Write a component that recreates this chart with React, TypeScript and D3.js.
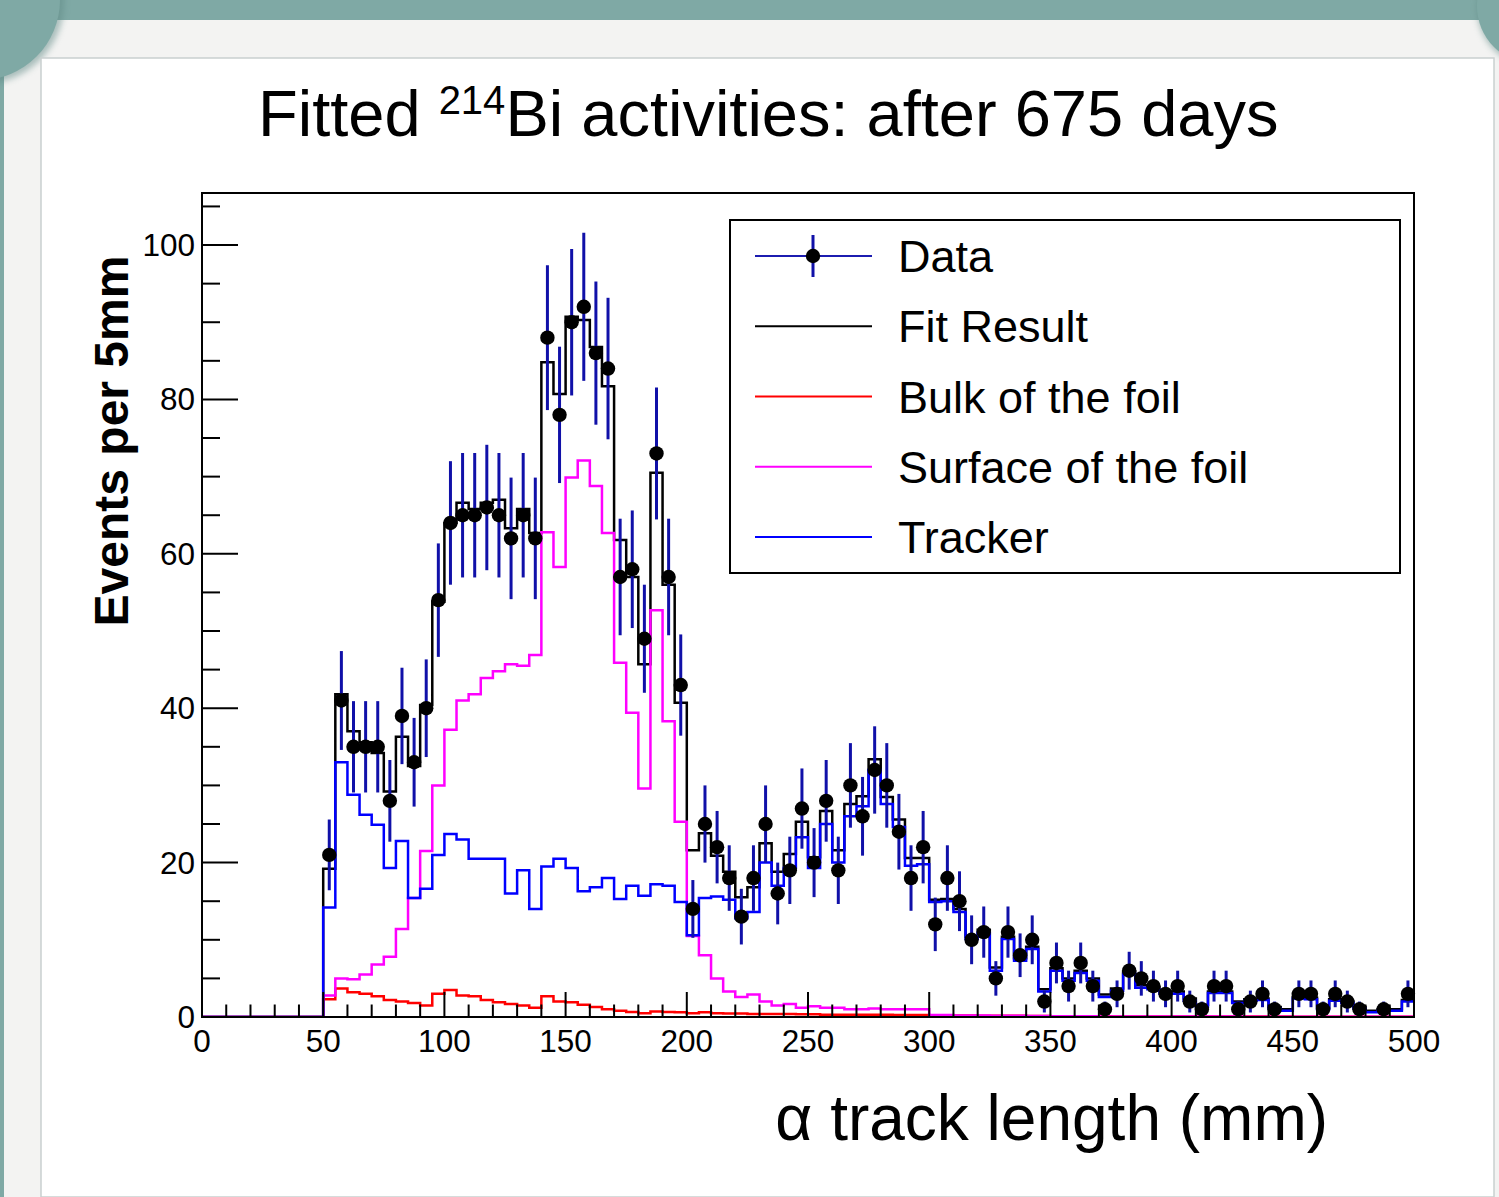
import React from 'react';
import * as d3 from 'd3';

// ---- data (5 mm bins starting at 50 mm) ----
const BIN_START = 50;
const BIN_WIDTH = 5;

const dataCounts = [
  21, 41, 35, 35, 35, 28, 39, 33, 40, 54,
  64, 65, 65, 66, 65, 62, 65, 62, 88, 78,
  90, 92, 86, 84, 57, 58, 49, 73, 57, 43,
  14, 25, 22, 18, 13, 18, 25, 16, 19, 27,
  20, 28, 19, 30, 26, 32, 30, 24, 18, 22,
  12, 18, 15, 10, 11, 5, 11, 8, 10, 2,
  7, 4, 7, 4, 1, 3, 6, 5, 4, 3,
  4, 2, 1, 4, 4, 1, 2, 3, 1, 0,
  3, 3, 1, 3, 2, 1, 0, 1, 0, 3,
];

const fitResult = [
  19.2, 41.8, 37.0, 35.6, 34.2, 29.2, 36.3, 32.5, 40.4, 53.8,
  64.0, 66.6, 65.8, 66.6, 67.0, 63.3, 65.8, 62.7, 84.8, 80.7,
  90.7, 90.3, 86.8, 81.7, 61.8, 57.0, 45.7, 70.5, 56.0, 40.7,
  21.6, 23.8, 20.9, 18.8, 15.5, 16.8, 22.5, 18.8, 21.1, 25.3,
  20.7, 26.7, 21.6, 27.6, 28.6, 33.4, 28.5, 25.6, 20.6, 20.6,
  15.2, 15.3, 14.0, 10.4, 11.3, 6.4, 10.4, 7.6, 9.1, 3.6,
  6.3, 5.0, 6.0, 5.0, 2.9, 3.7, 5.9, 4.1, 3.9, 3.3,
  3.3, 2.4, 1.6, 3.3, 3.3, 2.0, 2.3, 2.4, 1.3, 1.0,
  2.6, 2.5, 1.2, 2.3, 2.0, 1.3, 0.8, 1.0, 1.0, 2.2,
];

const bulkFoil = [
  2.3, 3.7, 3.2, 3.0, 2.7, 2.2, 2.0, 1.8, 1.5, 3.0,
  3.5, 2.8, 2.7, 2.2, 1.9, 1.7, 1.5, 1.2, 2.7, 2.0,
  1.9, 1.6, 1.3, 1.0, 0.8, 0.65, 0.5, 0.7, 0.65, 0.6,
  0.5, 0.6, 0.5, 0.45, 0.45, 0.4, 0.4, 0.4, 0.4, 0.35,
  0.35, 0.3, 0.3, 0.3, 0.3, 0.3, 0.3, 0.25, 0.25, 0.25,
  0.2, 0.2, 0.2, 0.2, 0.15, 0.15, 0.15, 0.15, 0.12, 0.12,
  0.1, 0.1, 0.1, 0.1, 0.1, 0.08, 0.08, 0.08, 0.08, 0.08,
  0.06, 0.06, 0.06, 0.06, 0.06, 0.05, 0.05, 0.05, 0.05, 0.05,
  0.04, 0.04, 0.04, 0.04, 0.04, 0.03, 0.03, 0.03, 0.03, 0.03,
];

const surfaceFoil = [
  2.8, 5.0, 4.9, 5.5, 6.8, 7.8, 11.4, 15.4, 21.5, 30.0,
  37.2, 41.0, 41.8, 43.9, 44.8, 45.7, 45.5, 46.9, 62.8, 58.3,
  69.9, 72.1, 68.8, 62.7, 45.9, 39.4, 29.6, 52.7, 38.3, 25.3,
  10.5, 8.0, 5.0, 3.3, 2.6, 2.9, 2.0, 1.5, 1.7, 1.2,
  1.4, 1.2, 1.2, 1.0, 1.0, 1.1, 1.0, 1.0, 1.0, 1.0,
  0.25, 0.25, 0.2, 0.2, 0.2, 0.15, 0.15, 0.15, 0.12, 0.12,
  0.1, 0.1, 0.1, 0.1, 0.08, 0.08, 0.08, 0.08, 0.06, 0.06,
  0.06, 0.06, 0.05, 0.05, 0.05, 0.05, 0.04, 0.04, 0.04, 0.04,
  0.03, 0.03, 0.03, 0.03, 0.03, 0.02, 0.02, 0.02, 0.02, 0.02,
];

const tracker = [
  14.2, 33.0, 28.8, 26.2, 24.9, 19.3, 22.8, 15.4, 16.6, 21.0,
  23.7, 23.0, 20.5, 20.5, 20.5, 16.0, 19.0, 14.0, 19.5, 20.5,
  19.3, 16.3, 16.8, 18.0, 15.3, 17.0, 15.7, 17.2, 17.0, 14.9,
  10.6, 15.4, 15.6, 15.2, 12.8, 13.6, 20.0, 17.0, 19.3, 23.3,
  19.3, 25.0, 20.0, 26.0, 27.3, 32.0, 27.6, 24.6, 19.6, 19.8,
  14.9, 15.0, 13.6, 10.1, 10.9, 6.0, 10.1, 7.3, 8.8, 3.3,
  6.0, 4.7, 5.7, 4.7, 2.6, 3.4, 5.6, 3.8, 3.6, 3.0,
  3.0, 2.1, 1.3, 3.1, 3.1, 1.8, 2.1, 2.2, 1.1, 0.8,
  2.4, 2.3, 1.0, 2.1, 1.8, 1.1, 0.6, 0.8, 0.8, 2.0,
];

const xTickLabels = [0, 50, 100, 150, 200, 250, 300, 350, 400, 450, 500];
const yTickLabels = [0, 20, 40, 60, 80, 100];
const legendLabels = ['Data', 'Fit Result', 'Bulk of the foil', 'Surface of the foil', 'Tracker'];
const legendColors = ['#1c1cb0', '#000000', '#ff0000', '#ff00ff', '#0000ff'];

const FONT = "'Liberation Sans', Arial, Helvetica, sans-serif";

export default function App() {
  const W = 1499;
  const H = 1197;
  const left = 202, right = 1414, top = 193, bottom = 1017;

  const x = d3.scaleLinear().domain([0, 500]).range([left, right]);
  const y = d3.scaleLinear().domain([0, 106.74]).range([bottom, top]);

  const binLow = dataCounts.map((_, i) => BIN_START + i * BIN_WIDTH);

  const stepPath = (vals: number[]) => {
    const pts: [number, number][] = [[0, 0]];
    binLow.forEach((b, i) => pts.push([b, vals[i]]));
    pts.push([500, vals[vals.length - 1]]);
    return d3
      .line<[number, number]>()
      .x((d) => x(d[0]))
      .y((d) => y(d[1]))
      .curve(d3.curveStepAfter)(pts) as string;
  };

  const xMinor = d3.range(0, 501, 10);
  const yMinor = d3.range(0, 106, 5);

  const teal = '#7fa9a5';
  const legendY0 = 256;
  const legendDy = 70.25;

  return (
    <svg
      width={W}
      height={H}
      viewBox={`0 0 ${W} ${H}`}
      style={{ position: 'absolute', left: 0, top: 0, display: 'block' }}
      fontFamily={FONT}
    >
      <defs>
        <filter id="shadow" x="-50%" y="-50%" width="200%" height="200%">
          <feGaussianBlur stdDeviation="3" />
        </filter>
        <clipPath id="plotClip">
          <rect x={left} y={top} width={right - left} height={bottom - top} />
        </clipPath>
      </defs>

      {/* page background */}
      <rect x={0} y={0} width={W} height={H} fill={teal} />
      <rect x={4} y={20} width={W - 4} height={H - 20} fill="#f3f3f2" />
      <circle cx={-18} cy={2} r={82} fill="#5f8884" opacity={0.5} filter="url(#shadow)" />
      <circle cx={-20} cy={0} r={80} fill={teal} />
      <circle cx={1537} cy={8} r={60} fill="#5f8884" opacity={0.5} filter="url(#shadow)" />
      <circle cx={1535} cy={6} r={58} fill={teal} />
      <rect x={41} y={58} width={1453} height={H - 58} fill="#ffffff" stroke="#c9d0cf" strokeWidth={1.5} />

      {/* title */}
      <text x={258} y={136} fontSize={65} fill="#000">
        <tspan>Fitted </tspan>
        <tspan fontSize={40} dy={-22}>214</tspan>
        <tspan dy={22}>Bi activities: after 675 days</tspan>
      </text>

      {/* histograms */}
      <g clipPath="url(#plotClip)" fill="none" strokeWidth={2.5}>
        <path d={stepPath(fitResult)} stroke="#000000" />
        <path d={stepPath(bulkFoil)} stroke="#ff0000" />
        <path d={stepPath(surfaceFoil)} stroke="#ff00ff" />
        <path d={stepPath(tracker)} stroke="#0000ff" />
      </g>

      {/* data points */}
      <g>
        {dataCounts.map((n, i) => {
          if (n <= 0) return null;
          const cx = x(binLow[i] + BIN_WIDTH / 2);
          const err = Math.sqrt(n);
          return (
            <g key={i}>
              <line x1={cx} x2={cx} y1={y(n - err)} y2={y(n + err)} stroke="#1010a8" strokeWidth={3} />
              <circle cx={cx} cy={y(n)} r={7.2} fill="#000" />
            </g>
          );
        })}
      </g>

      {/* frame */}
      <rect x={left} y={top} width={right - left} height={bottom - top} fill="none" stroke="#000" strokeWidth={2} />

      {/* axis ticks */}
      <g stroke="#000" strokeWidth={2}>
        {xMinor.map((v) => {
          const major = v % 50 === 0;
          return <line key={v} x1={x(v)} x2={x(v)} y1={bottom} y2={bottom - (major ? 25 : 12.5)} />;
        })}
        {yMinor.map((v) => {
          const major = v % 20 === 0;
          return <line key={v} x1={left} x2={left + (major ? 36 : 18)} y1={y(v)} y2={y(v)} />;
        })}
      </g>
      <g fontSize={31.5} fill="#000">
        {xTickLabels.map((v) => (
          <text key={v} x={x(v)} y={1052} textAnchor="middle">{v}</text>
        ))}
        {yTickLabels.map((v) => (
          <text key={v} x={195} y={y(v) + 11} textAnchor="end">{v}</text>
        ))}
      </g>

      {/* axis titles */}
      <text x={1328} y={1140} fontSize={64} textAnchor="end" fill="#000">α track length (mm)</text>
      <text
        transform={`translate(128, 441) rotate(-90)`}
        fontSize={48}
        fontWeight="bold"
        textAnchor="middle"
        fill="#000"
      >
        Events per 5mm
      </text>

      {/* legend */}
      <rect x={730} y={220} width={670} height={353} fill="#fff" stroke="#000" strokeWidth={2} />
      {legendLabels.map((lab, i) => {
        const ly = legendY0 + i * legendDy;
        return (
          <g key={lab}>
            <line x1={755} x2={872} y1={ly} y2={ly} stroke={legendColors[i]} strokeWidth={2} />
            {i === 0 && (
              <>
                <line x1={813} x2={813} y1={ly - 21} y2={ly + 21} stroke="#1010a8" strokeWidth={3} />
                <circle cx={813} cy={ly} r={7.2} fill="#000" />
              </>
            )}
            <text x={898} y={ly + 16} fontSize={45} fill="#000">{lab}</text>
          </g>
        );
      })}
    </svg>
  );
}
